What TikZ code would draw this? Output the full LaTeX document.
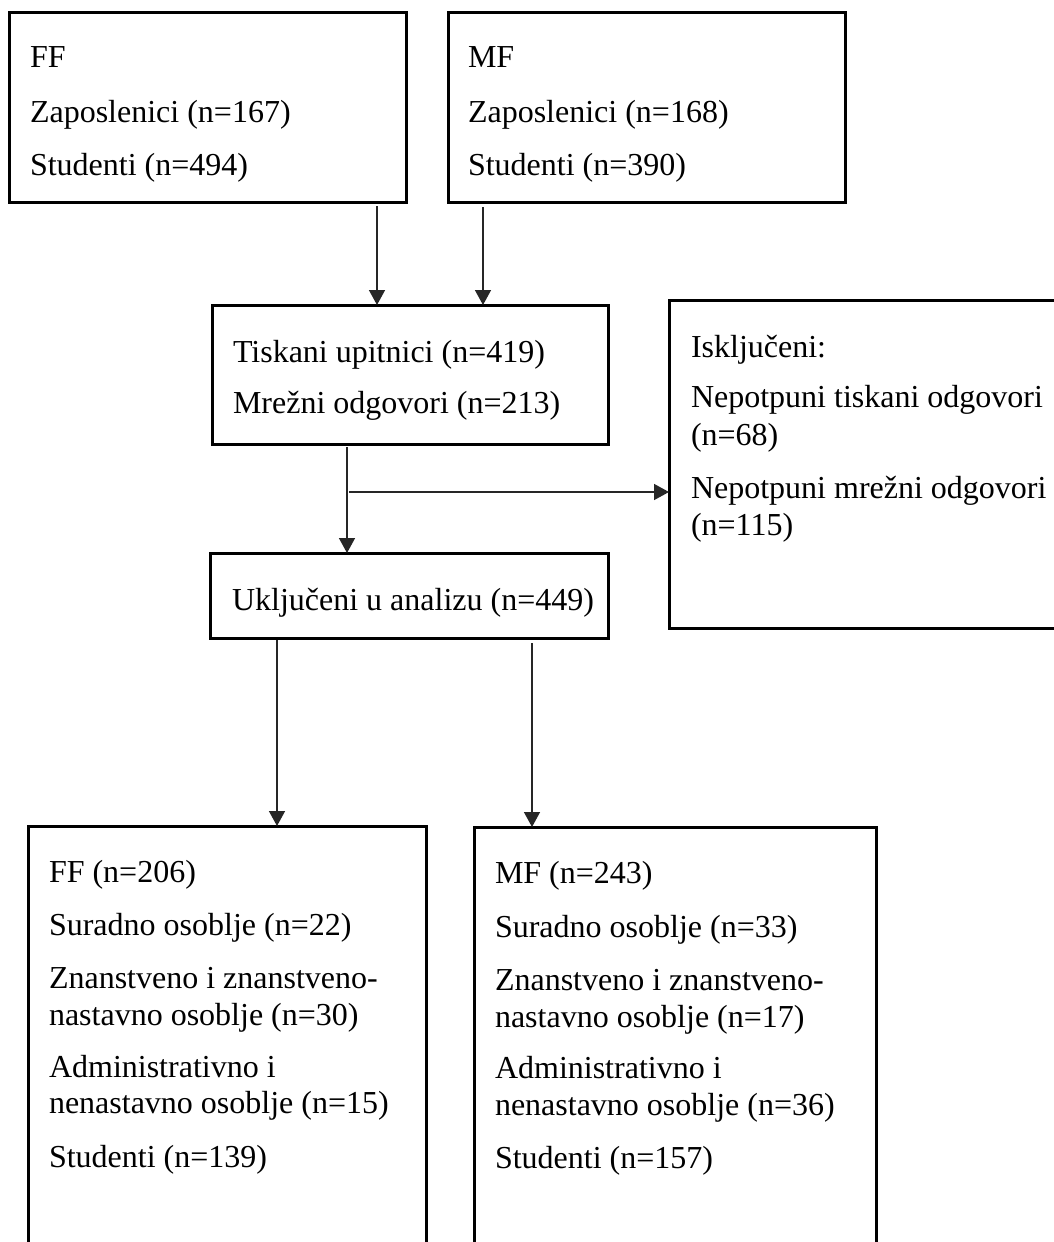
\documentclass[tikz,border=0pt]{standalone}
\usepackage{fontspec}
\setmainfont{Liberation Serif}
\usetikzlibrary{arrows.meta}
\begin{document}
\begin{tikzpicture}[x=1pt,y=-1pt,
  box/.style={draw=black, line width=3pt, anchor=north west, inner sep=0pt, outer sep=0pt},
  lbl/.style={anchor=base west, inner sep=0pt, outer sep=0pt, font=\fontsize{32}{37}\selectfont, text=black},
  arr/.style={draw=black!85, line width=1.5pt, -{Triangle[width=16pt,length=15pt]}}]
\clip (0,0) rectangle (1054,1242);
\fill[white] (0,0) rectangle (1054,1242);

% boxes
\node[box, minimum width=397pt, minimum height=190pt] (ff) at (9,12) {};
\node[box, minimum width=397pt, minimum height=190pt] (mf) at (448,12) {};
\node[box, minimum width=396pt, minimum height=139pt] (tisk) at (212,305) {};
\node[box, minimum width=400pt, minimum height=328pt] (isk) at (669,300) {};
\node[box, minimum width=398pt, minimum height=85pt] (ukl) at (210,553) {};
\node[box, minimum width=398pt, minimum height=450pt] (ffb) at (28,826) {};
\node[box, minimum width=402pt, minimum height=450pt] (mfb) at (474,827) {};

% texts: FF
\node[lbl] (ff1) at (30,67) {FF};
\node[lbl] (ff2) at (30,122) {Zaposlenici (n=167)};
\node[lbl] (ff3) at (30,175) {Studenti (n=494)};
% MF
\node[lbl] (mf1) at (468,67) {MF};
\node[lbl] (mf2) at (468,122) {Zaposlenici (n=168)};
\node[lbl] (mf3) at (468,175) {Studenti (n=390)};
% Tiskani
\node[lbl] (t1) at (233,362) {Tiskani upitnici (n=419)};
\node[lbl] (t2) at (233,413) {Mrežni odgovori (n=213)};
% Iskljuceni
\node[lbl] (i1) at (691,357) {Isključeni:};
\node[lbl] (i2) at (691,407) {Nepotpuni tiskani odgovori};
\node[lbl] (i3) at (691,445) {(n=68)};
\node[lbl] (i4) at (691,498) {Nepotpuni mrežni odgovori};
\node[lbl] (i5) at (691,535) {(n=115)};
% Ukljuceni
\node[lbl] (u1) at (232,610) {Uključeni u analizu (n=449)};
% bottom left
\node[lbl] (b1) at (49,882) {FF (n=206)};
\node[lbl] (b2) at (49,935) {Suradno osoblje (n=22)};
\node[lbl] (b3) at (49,988) {Znanstveno i znanstveno-};
\node[lbl] (b4) at (49,1025) {nastavno osoblje (n=30)};
\node[lbl] (b5) at (49,1077) {Administrativno i};
\node[lbl] (b6) at (49,1113) {nenastavno osoblje (n=15)};
\node[lbl] (b7) at (49,1167) {Studenti (n=139)};
% bottom right
\node[lbl] (c1) at (495,883) {MF (n=243)};
\node[lbl] (c2) at (495,937) {Suradno osoblje (n=33)};
\node[lbl] (c3) at (495,990) {Znanstveno i znanstveno-};
\node[lbl] (c4) at (495,1027) {nastavno osoblje (n=17)};
\node[lbl] (c5) at (495,1078) {Administrativno i};
\node[lbl] (c6) at (495,1115) {nenastavno osoblje (n=36)};
\node[lbl] (c7) at (495,1168) {Studenti (n=157)};

% connectors
\coordinate (x1) at (377,0);
\coordinate (x2) at (483,0);
\coordinate (x3) at (347,0);
\coordinate (x4) at (277,0);
\coordinate (x5) at (532,0);
\coordinate (h) at (349,492);
\draw[arr] ([yshift=-4pt]x1 |- ff.south) -- (x1 |- tisk.north);
\draw[arr] ([yshift=-5pt]x2 |- mf.south) -- (x2 |- tisk.north);
\draw[arr] ([yshift=-3pt]x3 |- tisk.south) -- (x3 |- ukl.north);
\draw[arr] (h) -- (h -| isk.west);
\draw[arr] ([yshift=-2pt]x4 |- ukl.south) -- (x4 |- ffb.north);
\draw[arr] ([yshift=-5pt]x5 |- ukl.south) -- (x5 |- mfb.north);
\end{tikzpicture}
\end{document}
